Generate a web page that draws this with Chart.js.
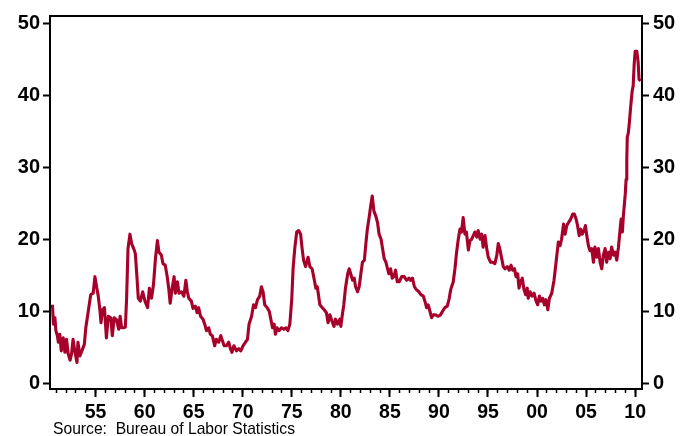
<!DOCTYPE html>
<html>
<head>
<meta charset="utf-8">
<script src="https://cdn.jsdelivr.net/npm/chart.js@4/dist/chart.umd.min.js"></script>
<style>
  body{ margin:0; background:#fff; }
  canvas{ display:block; }
</style>
</head>
<body>
<canvas id="ltChart" width="681" height="436"></canvas>
<script>
// share of unemployed out of work 27 weeks or more, %
const years = [
  1950.6,1950.7,1950.85,1950.95,1951.1,1951.2,1951.35,1951.5,1951.7,1951.87,
  1952.04,1952.2,1952.4,1952.55,1952.7,1952.9,1953.1,1953.2,1953.4,1953.6,
  1953.85,1954.0,1954.25,1954.5,1954.75,1954.93,1955.1,1955.27,1955.45,1955.55,
  1955.7,1955.9,1956.1,1956.3,1956.55,1956.7,1956.9,1957.14,1957.35,1957.5,
  1957.65,1957.86,1958.03,1958.16,1958.3,1958.5,1958.67,1958.88,1959.05,1959.2,
  1959.35,1959.56,1959.8,1960.03,1960.3,1960.48,1960.7,1960.9,1961.1,1961.3,
  1961.46,1961.7,1961.87,1962.1,1962.3,1962.45,1962.6,1962.8,1963.0,1963.13,
  1963.34,1963.5,1963.75,1964.0,1964.2,1964.35,1964.5,1964.76,1964.93,1965.17,
  1965.34,1965.5,1965.7,1965.95,1966.12,1966.3,1966.53,1966.7,1966.9,1967.14,
  1967.3,1967.55,1967.76,1967.93,1968.1,1968.33,1968.57,1968.74,1968.9,1969.1,
  1969.36,1969.6,1969.8,1970.03,1970.28,1970.48,1970.64,1970.9,1971.1,1971.3,
  1971.5,1971.73,1971.9,1972.07,1972.24,1972.48,1972.7,1972.86,1973.03,1973.2,
  1973.33,1973.5,1973.7,1973.94,1974.2,1974.4,1974.6,1974.8,1975.0,1975.13,
  1975.3,1975.5,1975.7,1975.9,1976.05,1976.2,1976.4,1976.66,1976.84,1977.07,
  1977.3,1977.45,1977.6,1977.86,1978.1,1978.3,1978.53,1978.7,1978.88,1979.1,
  1979.3,1979.45,1979.66,1979.9,1980.0,1980.13,1980.3,1980.47,1980.7,1980.85,
  1981.0,1981.2,1981.36,1981.5,1981.7,1981.87,1982.04,1982.2,1982.4,1982.55,
  1982.7,1982.9,1983.06,1983.2,1983.37,1983.57,1983.74,1983.9,1984.1,1984.25,
  1984.42,1984.6,1984.76,1984.9,1985.07,1985.24,1985.4,1985.58,1985.75,1985.95,
  1986.2,1986.46,1986.7,1986.94,1987.1,1987.3,1987.5,1987.7,1987.96,1988.16,
  1988.4,1988.57,1988.74,1988.9,1989.08,1989.25,1989.42,1989.66,1989.93,1990.17,
  1990.37,1990.6,1990.85,1991.05,1991.2,1991.46,1991.63,1991.8,1991.97,1992.14,
  1992.3,1992.47,1992.65,1992.8,1993.0,1993.16,1993.33,1993.5,1993.67,1993.85,
  1994.0,1994.2,1994.36,1994.5,1994.7,1994.87,1995.03,1995.27,1995.47,1995.7,
  1995.9,1996.05,1996.2,1996.4,1996.56,1996.73,1996.97,1997.17,1997.35,1997.5,
  1997.7,1997.86,1998.03,1998.16,1998.33,1998.5,1998.67,1998.84,1999.0,1999.1,
  1999.3,1999.5,1999.7,1999.9,2000.07,2000.24,2000.4,2000.58,2000.75,2000.9,
  2001.1,2001.26,2001.5,2001.73,2001.94,2002.17,2002.35,2002.5,2002.7,2002.86,
  2003.03,2003.2,2003.43,2003.64,2003.8,2003.98,2004.1,2004.3,2004.46,2004.6,
  2004.8,2004.93,2005.07,2005.24,2005.4,2005.58,2005.75,2005.9,2006.1,2006.26,
  2006.43,2006.6,2006.76,2006.94,2007.1,2007.28,2007.45,2007.6,2007.8,2007.96,
  2008.13,2008.3,2008.47,2008.57,2008.7,2008.8,2009.0,2009.08,2009.15,2009.2,
  2009.3,2009.4,2009.55,2009.7,2009.8,2009.9,2010.0,2010.17,2010.3,2010.4,
  2010.55
];
const longTermShare = [
  10.9,8.2,9.1,7.3,6.6,5.7,6.8,4.5,6.3,4.3,
  6.1,4.1,3.2,4.1,6.1,4.3,2.9,5.7,3.8,4.5,
  5.4,7.7,10.0,12.3,12.5,14.8,13.4,12.1,10.0,8.4,
  10.2,10.5,6.3,9.3,9.1,6.6,9.1,8.8,7.5,9.3,
  7.7,7.7,7.8,11.8,18.7,20.7,19.4,18.7,18.0,15.0,
  11.8,11.4,12.7,11.4,10.5,13.2,11.8,13.7,17.3,19.8,
  18.2,17.8,16.6,16.4,14.8,13.2,11.1,13.2,14.8,12.5,
  14.1,12.5,12.7,12.1,14.3,12.7,11.8,11.4,10.4,10.7,
  9.8,10.5,9.3,8.9,8.2,7.3,7.7,6.8,6.6,5.2,
  6.1,5.7,6.6,5.9,5.2,5.2,5.7,4.8,4.3,5.2,
  4.5,4.8,4.5,5.2,5.7,6.1,8.2,9.3,10.9,10.5,
  11.6,12.1,13.4,12.7,10.9,10.5,10.0,8.9,7.7,8.2,
  6.8,7.7,7.3,7.7,7.5,7.7,7.3,8.2,11.8,15.9,
  18.7,21.0,21.2,20.7,18.7,17.1,16.2,17.5,16.2,15.9,
  14.3,13.2,13.4,10.9,10.5,10.2,9.8,8.4,9.5,8.6,
  7.9,8.9,8.2,8.9,7.9,9.3,10.9,13.2,15.2,15.9,
  15.2,14.3,14.6,13.4,12.7,13.4,15.2,16.8,17.1,19.4,
  21.4,23.2,24.8,26.0,23.9,23.2,22.3,20.7,20.0,18.7,
  17.3,16.8,15.9,15.2,15.9,14.6,14.8,15.7,14.1,14.1,
  14.8,14.8,14.3,14.6,14.3,14.6,13.4,13.0,12.7,12.3,
  12.1,11.4,10.5,10.9,10.0,9.1,9.5,9.5,9.3,9.5,
  10.0,10.5,10.7,11.8,13.0,14.1,15.9,18.2,20.0,21.4,
  21.0,23.0,20.7,21.0,18.5,19.8,20.0,20.5,21.0,20.3,
  21.2,20.0,20.7,18.9,20.5,18.7,17.5,16.8,16.8,16.6,
  17.8,19.4,18.7,17.3,16.2,15.9,16.2,15.7,16.4,15.7,
  15.9,14.8,15.2,13.2,14.1,14.6,13.0,12.3,13.2,11.8,
  12.7,12.1,12.5,11.4,10.9,12.1,11.4,11.8,10.9,11.6,
  10.2,11.8,12.5,14.3,16.8,19.6,19.1,20.0,22.1,20.7,
  21.9,22.3,22.8,23.5,23.5,22.8,22.1,20.5,21.4,20.7,
  21.2,21.9,20.5,19.1,18.4,18.7,16.8,18.9,17.5,18.7,
  16.8,15.9,17.8,18.7,16.8,18.2,17.3,18.9,17.8,18.2,
  17.1,18.9,21.4,22.8,21.0,23.2,26.4,28.3,31.0,34.2,
  34.7,36.0,38.5,40.6,41.3,44.2,46.1,46.1,44.7,42.2,
  42.0
];
const xLabelYears = [1955,1960,1965,1970,1975,1980,1985,1990,1995,2000,2005,2010];
const xMinorYears = [];
for(let y=1951; y<=2010; y++) xMinorYears.push(y);
const yTicks = [0,10,20,30,40,50];
const sourceNote = "Source:  Bureau of Labor Statistics";

const X_MIN=1950.35, X_MAX=2010.7, Y_MIN=-0.8, Y_MAX=51;
const lineColor = '#A6002B';
const boldFont = size => ({family:'"Liberation Sans", Arial, sans-serif', size, weight:'bold'});

const sourcePlugin = {
  id:'sourceNote',
  afterDraw(chart){
    const ctx = chart.ctx;
    ctx.save();
    ctx.font = '17px "Liberation Sans", Arial, sans-serif';
    ctx.fillStyle = '#000';
    ctx.textBaseline = 'alphabetic';
    const w = ctx.measureText(sourceNote).width;
    ctx.translate(53, 434);
    ctx.scale(242 / w, 1);
    ctx.fillText(sourceNote, 0, 0);
    ctx.restore();
  }
};

new Chart(document.getElementById('ltChart'), {
  type:'line',
  data:{
    datasets:[{
      data: years.map((t,i)=>({x:t, y:longTermShare[i]})),
      borderColor: lineColor,
      borderWidth: 3.1,
      borderJoinStyle: 'round',
      pointRadius: 0,
      tension: 0,
      fill: false
    }]
  },
  options:{
    responsive:false,
    animation:false,
    devicePixelRatio:1,
    layout:{ padding:{top:11, left:0, right:0, bottom:0} },
    plugins:{ legend:{display:false}, tooltip:{enabled:false} },
    scales:{
      x:{
        type:'linear', position:'bottom', weight:1, min:X_MIN, max:X_MAX,
        afterBuildTicks: s => { s.ticks = xLabelYears.map(v=>({value:v})); },
        ticks:{ callback: v => String(v % 100).padStart(2,'0'), font:boldFont(19.5), color:'#000', padding:4, maxRotation:0, autoSkip:false },
        grid:{ drawOnChartArea:false, tickLength:8, tickColor:'#000', tickWidth:2 },
        border:{ color:'#000', width:2 },
        afterFit: s => { s.height = 47; }
      },
      xMinor:{
        type:'linear', position:'bottom', weight:0, min:X_MIN, max:X_MAX,
        afterBuildTicks: s => { s.ticks = xMinorYears.map(v=>({value:v})); },
        ticks:{ display:false },
        grid:{ drawOnChartArea:false, tickLength:4, tickColor:'#000', tickWidth:1.5 },
        border:{ display:false },
        afterFit: s => { s.height = 0; }
      },
      xTop:{
        type:'linear', position:'top', min:X_MIN, max:X_MAX,
        ticks:{ display:false },
        grid:{ drawOnChartArea:false, drawTicks:false },
        border:{ color:'#000', width:2 },
        afterFit: s => { s.height = 0; }
      },
      y:{
        position:'left', min:Y_MIN, max:Y_MAX,
        afterBuildTicks: s => { s.ticks = yTicks.map(v=>({value:v})); },
        ticks:{ font:boldFont(20), color:'#000', padding:3 },
        grid:{ drawOnChartArea:false, tickLength:7, tickColor:'#000', tickWidth:2 },
        border:{ color:'#000', width:2 },
        afterFit: s => { s.width = 50; }
      },
      y2:{
        position:'right', min:Y_MIN, max:Y_MAX,
        afterBuildTicks: s => { s.ticks = yTicks.map(v=>({value:v})); },
        ticks:{ font:boldFont(20), color:'#000', padding:4 },
        grid:{ drawOnChartArea:false, tickLength:7, tickColor:'#000', tickWidth:2 },
        border:{ color:'#000', width:2 },
        afterFit: s => { s.width = 39; }
      }
    }
  },
  plugins:[sourcePlugin]
});
</script>
</body>
</html>
